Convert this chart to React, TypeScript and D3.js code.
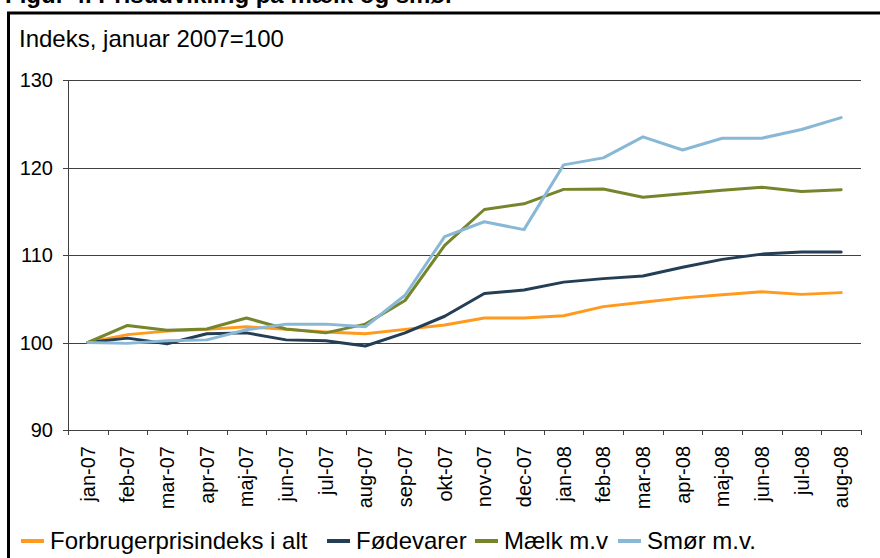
import * as d3 from 'd3';

const months = [
  'jan-07', 'feb-07', 'mar-07', 'apr-07', 'maj-07', 'jun-07', 'jul-07', 'aug-07', 'sep-07', 'okt-07',
  'nov-07', 'dec-07', 'jan-08', 'feb-08', 'mar-08', 'apr-08', 'maj-08', 'jun-08', 'jul-08', 'aug-08',
];

const forbrugerpris = [100, 100.9, 101.3, 101.5, 101.8, 101.5, 101.2, 101.0, 101.5, 102.0, 102.8, 102.8, 103.05, 104.1, 104.6, 105.1, 105.45, 105.8, 105.5, 105.7];
const foedevarer = [100, 100.5, 99.85, 101.0, 101.1, 100.3, 100.2, 99.6, 101.1, 103.0, 105.6, 106.0, 106.9, 107.3, 107.6, 108.6, 109.5, 110.1, 110.35, 110.35];
const maelk = [100, 101.95, 101.4, 101.55, 102.8, 101.55, 101.1, 102.1, 104.8, 111.1, 115.2, 115.85, 117.5, 117.55, 116.6, 117.0, 117.4, 117.75, 117.25, 117.45];
const smoer = [100, 99.9, 100.2, 100.3, 101.45, 102.1, 102.1, 101.8, 105.4, 112.1, 113.8, 112.9, 120.3, 121.1, 123.5, 122.0, 123.35, 123.35, 124.35, 125.7];

const seriesNames = ['Forbrugerprisindeks i alt', 'Fødevarer', 'Mælk m.v', 'Smør m.v.'];
const yTicks = [90, 100, 110, 120, 130];

const colors = ['#ff9a1f', '#243e55', '#76852b', '#88b8d5'];
const legendX = [21, 327, 475, 618];

const font = '"Liberation Sans", Arial, sans-serif';

export default function App() {
  const width = 880;
  const height = 558;
  const left = 68;
  const right = 861;
  const top = 80;
  const bottom = 430;

  const x = d3.scaleBand<string>().domain(months).range([left, right]);
  const bw = x.bandwidth();
  const cx = (m: string) => (x(m) as number) + bw / 2;
  const y = d3.scaleLinear().domain([90, 130]).range([bottom, top]);

  const line = d3.line<number>()
    .x((_, i) => cx(months[i]))
    .y(d => y(d));

  const series = [forbrugerpris, foedevarer, maelk, smoer].map((values, i) => ({
    name: seriesNames[i],
    values,
    color: colors[i],
  }));

  const tickX = [...months.map(m => x(m) as number), right];

  return (
    <svg width={width} height={height} style={{ position: 'absolute', left: 0, top: 0, background: '#fff' }}
      fontFamily={font}>
      {/* figure title, cut off at the top like in the source */}
      <text x={5} y={2.5} fontSize={24} fontWeight="bold">Figur 4. Prisudvikling på mælk og smør</text>
      {/* frame */}
      <rect x={8.5} y={13} width={900} height={600} fill="none" stroke="#000" strokeWidth={3} />

      <text x={19} y={47} fontSize={24}>Indeks, januar 2007=100</text>

      {/* grid + y axis */}
      {yTicks.map(t => (
        <g key={t}>
          {t !== 90 && (
            <line x1={left} x2={right} y1={Math.round(y(t)) + 0.5} y2={Math.round(y(t)) + 0.5}
              stroke="#404040" strokeWidth={1} />
          )}
          <line x1={left - 5} x2={left} y1={Math.round(y(t)) + 0.5} y2={Math.round(y(t)) + 0.5}
            stroke="#404040" strokeWidth={1} />
          <text x={53} y={y(t)} dy="0.35em" textAnchor="end" fontSize={20}>{t}</text>
        </g>
      ))}
      <line x1={left + 0.5} x2={left + 0.5} y1={top} y2={bottom} stroke="#404040" strokeWidth={1} />

      {/* x axis */}
      <line x1={left} x2={right} y1={bottom + 0.5} y2={bottom + 0.5} stroke="#404040" strokeWidth={1} />
      {tickX.map((tx, i) => (
        <line key={i} x1={Math.round(tx) + 0.5} x2={Math.round(tx) + 0.5} y1={bottom} y2={bottom + 5}
          stroke="#404040" strokeWidth={1} />
      ))}
      {months.map(m => (
        <text key={m} transform={`translate(${cx(m)},446) rotate(-90)`} dy="0.35em" textAnchor="end" fontSize={20}>
          {m}
        </text>
      ))}

      {/* lines */}
      {series.map(s => (
        <path key={s.name} d={line(s.values) as string} fill="none" stroke={s.color} strokeWidth={3}
          strokeLinejoin="round" strokeLinecap="round" />
      ))}

      {/* legend */}
      {series.map((s, i) => (
        <g key={s.name} transform={`translate(${legendX[i]},541)`}>
          <line x1={0} x2={23} y1={0} y2={0} stroke={s.color} strokeWidth={4} />
          <text x={29} y={8} fontSize={24}>{s.name}</text>
        </g>
      ))}
    </svg>
  );
}
